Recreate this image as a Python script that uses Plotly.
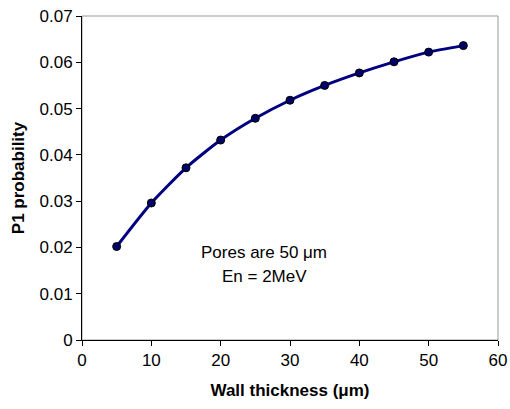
import plotly.graph_objects as go

thickness = [5, 10, 15, 20, 25, 30, 35, 40, 45, 50, 55]
p1_prob = [0.0202, 0.0296, 0.0372, 0.0432, 0.0479, 0.0518, 0.0550, 0.0577, 0.0601, 0.0622, 0.0636]
x_ticks = [0, 10, 20, 30, 40, 50, 60]
y_ticks = [0, 0.01, 0.02, 0.03, 0.04, 0.05, 0.06, 0.07]
y_tick_text = ["0", "0.01", "0.02", "0.03", "0.04", "0.05", "0.06", "0.07"]

FONT = "Liberation Sans, Arial, sans-serif"

fig = go.Figure()
fig.add_trace(go.Scatter(
    x=thickness, y=p1_prob, mode="lines+markers",
    line=dict(color="#000080", width=3, shape="spline", smoothing=0.6),
    marker=dict(color="#000066", size=8, line=dict(color="#000000", width=1)),
    showlegend=False,
))

fig.add_shape(type="rect", xref="paper", yref="paper", x0=0, y0=0, x1=1, y1=1,
              line=dict(color="#999999", width=1), layer="below")

fig.add_annotation(x=26.3, y=0.0190, xref="x", yref="y", text="Pores are 50 μm",
                   showarrow=False, font=dict(family=FONT, size=17, color="#000000"))
fig.add_annotation(x=26.3, y=0.0138, xref="x", yref="y", text="En = 2MeV",
                   showarrow=False, font=dict(family=FONT, size=17, color="#000000"))

fig.update_layout(
    width=510, height=409, autosize=False,
    margin=dict(l=82, r=12, t=16, b=69, pad=0),
    paper_bgcolor="white", plot_bgcolor="white",
    font=dict(family=FONT, size=17, color="#000000"),
    xaxis=dict(range=[0, 60], tickvals=x_ticks, ticks="outside", ticklen=5, tickcolor="#000000",
               showline=True, linecolor="#000000", linewidth=1, showgrid=False, zeroline=False,
               automargin=False,
               title=dict(text="<b>Wall thickness (μm)</b>", font=dict(size=17), standoff=14),
               tickfont=dict(size=17)),
    yaxis=dict(range=[0, 0.07], tickvals=y_ticks, ticktext=y_tick_text,
               ticks="outside", ticklen=5, tickcolor="#000000",
               showline=True, linecolor="#000000", linewidth=1, showgrid=False, zeroline=False,
               automargin=False,
               title=dict(text="<b>P1 probability</b>", font=dict(size=17), standoff=10),
               tickfont=dict(size=17)),
)

fig.write_html("out.html")
